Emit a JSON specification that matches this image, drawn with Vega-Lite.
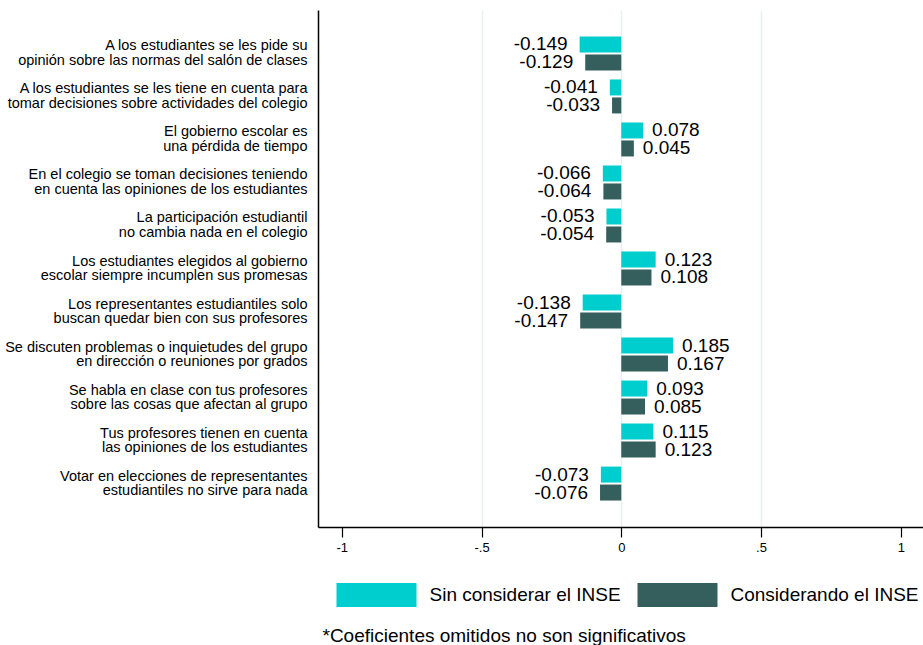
{
  "$schema": "https://vega.github.io/schema/vega-lite/v6.json",
  "width": 606,
  "height": 517,
  "autosize": {"type": "none"},
  "padding": {"left": 318, "top": 10, "right": 0, "bottom": 118},
  "background": "white",
  "config": {
    "view": {"stroke": null},
    "font": "Liberation Sans",
    "locale": {"number": {"decimal": ".", "thousands": ",", "grouping": [3], "currency": ["$", ""], "minus": "-"}}
  },
  "data": {
    "values": [
      {"item": "A los estudiantes se les pide su\nopinión sobre las normas del salón de clases", "serie": "Sin considerar el INSE", "valor": -0.149},
      {"item": "A los estudiantes se les pide su\nopinión sobre las normas del salón de clases", "serie": "Considerando el INSE", "valor": -0.129},
      {"item": "A los estudiantes se les tiene en cuenta para\ntomar decisiones sobre actividades del colegio", "serie": "Sin considerar el INSE", "valor": -0.041},
      {"item": "A los estudiantes se les tiene en cuenta para\ntomar decisiones sobre actividades del colegio", "serie": "Considerando el INSE", "valor": -0.033},
      {"item": "El gobierno escolar es\nuna pérdida de tiempo", "serie": "Sin considerar el INSE", "valor": 0.078},
      {"item": "El gobierno escolar es\nuna pérdida de tiempo", "serie": "Considerando el INSE", "valor": 0.045},
      {"item": "En el colegio se toman decisiones teniendo\nen cuenta las opiniones de los estudiantes", "serie": "Sin considerar el INSE", "valor": -0.066},
      {"item": "En el colegio se toman decisiones teniendo\nen cuenta las opiniones de los estudiantes", "serie": "Considerando el INSE", "valor": -0.064},
      {"item": "La participación estudiantil\nno cambia nada en el colegio", "serie": "Sin considerar el INSE", "valor": -0.053},
      {"item": "La participación estudiantil\nno cambia nada en el colegio", "serie": "Considerando el INSE", "valor": -0.054},
      {"item": "Los estudiantes elegidos al gobierno\nescolar siempre incumplen sus promesas", "serie": "Sin considerar el INSE", "valor": 0.123},
      {"item": "Los estudiantes elegidos al gobierno\nescolar siempre incumplen sus promesas", "serie": "Considerando el INSE", "valor": 0.108},
      {"item": "Los representantes estudiantiles solo\nbuscan quedar bien con sus profesores", "serie": "Sin considerar el INSE", "valor": -0.138},
      {"item": "Los representantes estudiantiles solo\nbuscan quedar bien con sus profesores", "serie": "Considerando el INSE", "valor": -0.147},
      {"item": "Se discuten problemas o inquietudes del grupo\nen dirección o reuniones por grados", "serie": "Sin considerar el INSE", "valor": 0.185},
      {"item": "Se discuten problemas o inquietudes del grupo\nen dirección o reuniones por grados", "serie": "Considerando el INSE", "valor": 0.167},
      {"item": "Se habla en clase con tus profesores\nsobre las cosas que afectan al grupo", "serie": "Sin considerar el INSE", "valor": 0.093},
      {"item": "Se habla en clase con tus profesores\nsobre las cosas que afectan al grupo", "serie": "Considerando el INSE", "valor": 0.085},
      {"item": "Tus profesores tienen en cuenta\nlas opiniones de los estudiantes", "serie": "Sin considerar el INSE", "valor": 0.115},
      {"item": "Tus profesores tienen en cuenta\nlas opiniones de los estudiantes", "serie": "Considerando el INSE", "valor": 0.123},
      {"item": "Votar en elecciones de representantes\nestudiantiles no sirve para nada", "serie": "Sin considerar el INSE", "valor": -0.073},
      {"item": "Votar en elecciones de representantes\nestudiantiles no sirve para nada", "serie": "Considerando el INSE", "valor": -0.076}
    ]
  },
  "encoding": {
    "y": {
      "field": "item",
      "type": "nominal",
      "sort": null,
      "scale": {"paddingInner": 0.21, "paddingOuter": 0.615},
      "axis": {
        "title": null,
        "ticks": false,
        "grid": false,
        "domainColor": "black",
        "domainWidth": 1.5,
        "labelFontSize": 14.5,
        "labelLineHeight": 14.5,
        "labelPadding": 11,
        "labelOffset": -7,
        "labelColor": "black",
        "labelAlign": "right",
        "labelBaseline": "middle",
        "labelLimit": 400,
        "labelExpr": "split(datum.label, '\\n')"
      }
    },
    "yOffset": {
      "field": "serie",
      "sort": ["Sin considerar el INSE", "Considerando el INSE"],
      "scale": {"paddingInner": 0.11}
    }
  },
  "layer": [
    {
      "mark": {"type": "bar"},
      "encoding": {
        "x": {
          "field": "valor",
          "type": "quantitative",
          "scale": {"domain": [-1.085, 1.083], "nice": false, "zero": false},
          "axis": {
            "values": [-1, -0.5, 0, 0.5, 1],
            "labelExpr": "datum.value == -1 ? '-1' : datum.value == -0.5 ? '-.5' : datum.value == 0 ? '0' : datum.value == 0.5 ? '.5' : '1'",
            "grid": true,
            "gridColor": "#E6F0F1",
            "gridWidth": 1.5,
            "gridOpacity": {"condition": {"test": "abs(datum.value) == 1", "value": 0}, "value": 1},
            "domainColor": "black",
            "domainWidth": 1.5,
            "tickColor": "black",
            "tickSize": 10,
            "tickWidth": 1.2,
            "labelFontSize": 13,
            "labelPadding": 4,
            "labelColor": "black",
            "title": "*Coeficientes omitidos no son significativos",
            "titleX": 4,
            "titleY": 108,
            "titleAlign": "left",
            "titleAnchor": null,
            "titleBaseline": "middle",
            "titleFontSize": 19,
            "titleFontWeight": "normal",
            "titleColor": "black"
          }
        },
        "color": {
          "field": "serie",
          "type": "nominal",
          "sort": ["Sin considerar el INSE", "Considerando el INSE"],
          "scale": {"domain": ["Sin considerar el INSE", "Considerando el INSE"], "range": ["#00CDCD", "#355F5C"]},
          "legend": {
            "orient": "none",
            "legendX": 18.5,
            "legendY": 545,
            "direction": "horizontal",
            "title": null,
            "padding": 0,
            "symbolType": "M-1,-0.3H1V0.3H-1Z",
            "symbolSize": 6400,
            "symbolStrokeWidth": 0,
            "symbolOpacity": 1,
            "labelFontSize": 19,
            "labelOffset": 13,
            "labelLimit": 400,
            "labelColor": "black",
            "columnPadding": 16
          }
        }
      }
    },
    {
      "transform": [{"filter": "datum.valor < 0"}],
      "mark": {"type": "text", "align": "right", "baseline": "middle", "dx": -12, "fontSize": 19, "color": "black"},
      "encoding": {
        "x": {"field": "valor", "type": "quantitative"},
        "text": {"field": "valor", "type": "quantitative", "format": ".3f"}
      }
    },
    {
      "transform": [{"filter": "datum.valor >= 0"}],
      "mark": {"type": "text", "align": "left", "baseline": "middle", "dx": 9, "fontSize": 19, "color": "black"},
      "encoding": {
        "x": {"field": "valor", "type": "quantitative"},
        "text": {"field": "valor", "type": "quantitative", "format": ".3f"}
      }
    }
  ]
}
